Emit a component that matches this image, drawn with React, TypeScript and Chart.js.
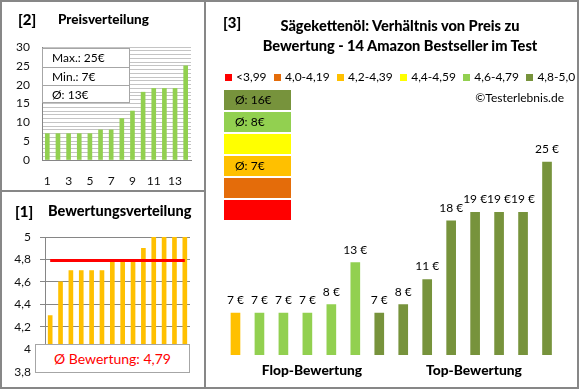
import React, { useEffect, useRef } from 'react';
import { Chart, registerables } from 'chart.js';
Chart.register(...registerables);

const FONT = 'Lato, "Open Sans", sans-serif';

// Panel [2] – price distribution (sorted)
const priceCategories = ['1', '2', '3', '4', '5', '6', '7', '8', '9', '10', '11', '12', '13', '14'];
const sortedPrices = [7, 7, 7, 7, 7, 8, 8, 11, 13, 18, 19, 19, 19, 25];
const priceStats = ['Max.: 25€', 'Min.: 7€', 'Ø: 13€'];

// Panel [1] – rating distribution (sorted)
const sortedRatings = [4.3, 4.6, 4.7, 4.7, 4.7, 4.7, 4.8, 4.8, 4.8, 4.9, 5, 5, 5, 5];
const averageRating = 4.79;
const averageRatingText = 'Ø Bewertung: 4,79';

// Panel [3] – price vs rating
const productPrices = [7, 7, 7, 7, 8, 13, 7, 8, 11, 18, 19, 19, 19, 25];
const productBand = [2, 4, 4, 4, 4, 4, 5, 5, 5, 5, 5, 5, 5, 5];
const bandLabels = ['<3,99', '4,0-4,19', '4,2-4,39', '4,4-4,59', '4,6-4,79', '4,8-5,0'];
const bandColors = ['#ff0000', '#e46c0a', '#ffc000', '#ffff00', '#92d050', '#77933c'];
const bandAverages = ['', '', 'Ø: 7€', '', 'Ø: 8€', 'Ø: 16€'];
const titleLines = ['Sägekettenöl: Verhältnis von Preis zu', 'Bewertung - 14 Amazon Bestseller im Test'];

const fmtRating = (v: number) => {
  const r = Number(v.toFixed(1));
  return String(r).replace('.', ',');
};

const valueLabelPlugin = {
  id: 'valueLabels',
  afterDatasetsDraw(chart: any) {
    const { ctx } = chart;
    const meta = chart.getDatasetMeta(0);
    ctx.save();
    ctx.font = `12px ${FONT}`;
    ctx.fillStyle = '#000';
    ctx.textAlign = 'center';
    ctx.textBaseline = 'middle';
    meta.data.forEach((bar: any, i: number) => {
      ctx.fillText(`${productPrices[i]} €`, bar.x, bar.y - 13);
    });
    ctx.restore();
  },
};

const abs = (l: number, t: number, w: number, h: number): React.CSSProperties => ({
  position: 'absolute', left: l, top: t, width: w, height: h,
});

export default function App() {
  const refA = useRef<HTMLCanvasElement>(null);
  const refB = useRef<HTMLCanvasElement>(null);
  const refC = useRef<HTMLCanvasElement>(null);

  useEffect(() => {
    document.body.style.margin = '0';
    const tickFont = { family: FONT, size: 12 };

    const chartA = new Chart(refA.current!, {
      type: 'bar',
      data: {
        labels: priceCategories,
        datasets: [{ data: sortedPrices, backgroundColor: '#92d050', barThickness: 4 }],
      },
      options: {
        animation: false,
        responsive: false,
        events: [],
        layout: { padding: { top: 47, right: 14, left: 0, bottom: 0 } },
        plugins: { legend: { display: false }, tooltip: { enabled: false } },
        scales: {
          x: {
            grid: { display: false, drawTicks: false },
            border: { color: '#868686', width: 1 },
            ticks: {
              font: tickFont, color: '#111', padding: 14, autoSkip: false, maxRotation: 0,
              callback: (_v: any, i: number) => (i % 2 === 0 ? priceCategories[i] : ''),
            },
            afterFit: (s: any) => { s.height = 31; },
          },
          y: {
            min: 0, max: 30,
            grid: { color: '#c4c4c4', drawTicks: false },
            border: { color: '#868686', width: 1 },
            ticks: {
              stepSize: 1, autoSkip: false, font: tickFont, color: '#111', padding: 12,
              callback: (v: any) => (Number(v) % 5 === 0 ? String(v) : ''),
            },
            afterFit: (s: any) => { s.width = 42; },
          },
        },
      },
    });

    const chartB = new Chart(refB.current!, {
      type: 'bar',
      data: {
        labels: priceCategories,
        datasets: [
          {
            type: 'line', data: sortedRatings.map(() => averageRating), borderColor: '#ff0000',
            borderWidth: 3, pointRadius: 0, order: 0,
          } as any,
          { data: sortedRatings, backgroundColor: '#ffc000', barThickness: 4, order: 1 },
        ],
      },
      options: {
        animation: false,
        responsive: false,
        events: [],
        layout: { padding: { top: 46, right: 15, left: 0, bottom: 15 } },
        plugins: { legend: { display: false }, tooltip: { enabled: false } },
        scales: {
          x: { display: false },
          y: {
            min: 3.8, max: 5,
            grid: { color: '#868686', drawTicks: true, tickLength: 5 },
            border: { color: '#868686', width: 1 },
            ticks: {
              stepSize: 0.2, autoSkip: false, font: tickFont, color: '#111', padding: 9,
              callback: (v: any) => fmtRating(Number(v)),
            },
            afterFit: (s: any) => { s.width = 45; },
          },
        },
      },
    });

    const chartC = new Chart(refC.current!, {
      type: 'bar',
      data: {
        labels: priceCategories,
        datasets: [{
          data: productPrices,
          backgroundColor: productBand.map((b) => bandColors[b]),
          barThickness: 9,
        }],
      },
      options: {
        animation: false,
        responsive: false,
        events: [],
        layout: { padding: { top: 120, right: 19, left: 18.5, bottom: 33 } },
        plugins: { legend: { display: false }, tooltip: { enabled: false } },
        scales: {
          x: { display: false },
          y: { display: false, min: 2, max: 30 },
        },
      },
      plugins: [valueLabelPlugin],
    });

    return () => { chartA.destroy(); chartB.destroy(); chartC.destroy(); };
  }, []);

  const border = '#878787';
  const boxBorder = '#a6a6a6';

  return (
    <div style={{ ...abs(0, 0, 580, 390), background: '#fff', fontFamily: FONT, color: '#000', overflow: 'hidden' }}>
      <canvas ref={refA} width={205} height={191} style={abs(0, 0, 205, 191)} />
      <canvas ref={refB} width={205} height={197} style={abs(0, 191, 205, 197)} />
      <canvas ref={refC} width={373} height={388} style={abs(205, 0, 373, 388)} />

      {/* frame */}
      <div style={{ ...abs(0, 0, 579, 389), border: `2px solid ${border}`, boxSizing: 'border-box' }} />
      <div style={{ ...abs(204, 0, 2, 389), background: border }} />
      <div style={{ ...abs(0, 190, 205, 2), background: border }} />

      {/* panel [2] */}
      <div style={{ position: 'absolute', left: 18, top: 10, fontSize: 15, fontWeight: 900, lineHeight: '18px' }}>[2]</div>
      <div style={{ position: 'absolute', left: 58, top: 11, fontSize: 13.5, fontWeight: 900, lineHeight: '16px', whiteSpace: 'nowrap' }}>Preisverteilung</div>
      <div style={{ ...abs(42, 48, 88, 55), background: '#fff', border: `1px solid ${boxBorder}`, boxSizing: 'border-box' }}>
        {priceStats.map((s, i) => (
          <div key={s} style={{
            height: i === 2 ? 17 : 18, lineHeight: '18px', fontSize: 12, paddingLeft: 9, boxSizing: 'border-box',
            borderTop: i > 0 ? `1px solid ${boxBorder}` : 'none',
          }}>{s}</div>
        ))}
      </div>

      {/* panel [1] */}
      <div style={{ position: 'absolute', left: 15, top: 202, fontSize: 15, fontWeight: 900, lineHeight: '18px' }}>[1]</div>
      <div style={{ position: 'absolute', left: 48, top: 203, fontSize: 14.5, fontWeight: 900, lineHeight: '16px', whiteSpace: 'nowrap' }}>Bewertungsverteilung</div>
      <div style={{
        ...abs(35, 344, 155, 29), background: '#fff', border: `1px solid ${boxBorder}`, boxSizing: 'border-box',
        color: '#ff0000', fontSize: 14, textAlign: 'center', lineHeight: '27px',
      }}>{averageRatingText}</div>

      {/* panel [3] */}
      <div style={{ position: 'absolute', left: 223, top: 13, fontSize: 15, fontWeight: 900, lineHeight: '18px' }}>[3]</div>
      {titleLines.map((t, i) => (
        <div key={t} style={{
          position: 'absolute', left: 210, width: 380, top: 17 + i * 20, textAlign: 'center',
          fontSize: 14.6, fontWeight: 900, lineHeight: '18px', whiteSpace: 'nowrap',
        }}>{t}</div>
      ))}
      <div style={{ position: 'absolute', left: 225, top: 70, display: 'flex', gap: 7.4, fontSize: 12, lineHeight: '14px', whiteSpace: 'nowrap' }}>
        {bandLabels.map((l, i) => (
          <div key={l} style={{ display: 'flex', alignItems: 'center', gap: 4 }}>
            <div style={{ width: 7, height: 7, background: bandColors[i] }} />
            <span>{l}</span>
          </div>
        ))}
      </div>
      <div style={{ position: 'absolute', right: 16, top: 91, fontSize: 12, lineHeight: '14px' }}>©Testerlebnis.de</div>
      {bandColors.map((c, k) => {
        const i = bandColors.length - 1 - k;
        return (
          <div key={c} style={{
            ...abs(224, 90 + k * 22, 67, 20), background: bandColors[i], fontSize: 12,
            lineHeight: '20px', paddingLeft: 11, boxSizing: 'border-box',
          }}>{bandAverages[i]}</div>
        );
      })}
      <div style={{ position: 'absolute', left: 252, width: 120, top: 362, textAlign: 'center', fontSize: 13.8, fontWeight: 900, lineHeight: '16px', whiteSpace: 'nowrap' }}>Flop-Bewertung</div>
      <div style={{ position: 'absolute', left: 414, width: 120, top: 362, textAlign: 'center', fontSize: 13.8, fontWeight: 900, lineHeight: '16px', whiteSpace: 'nowrap' }}>Top-Bewertung</div>
    </div>
  );
}
